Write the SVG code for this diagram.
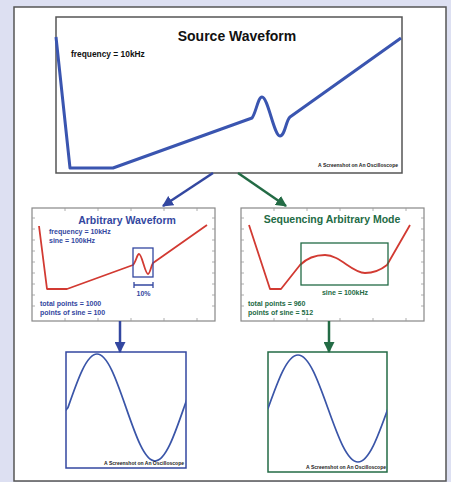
<svg xmlns="http://www.w3.org/2000/svg" width="451" height="482" viewBox="0 0 451 482">
<defs>
<style>
text{font-family:"Liberation Sans",Arial,sans-serif;font-weight:bold}
.frame{fill:#fff;stroke:#888;stroke-width:1.2}
.tick{stroke:#999;stroke-width:0.8}
.red{fill:none;stroke:#d23a32;stroke-width:1.8;stroke-linejoin:round}
.sine{fill:none;stroke:#3a55a8;stroke-width:1.7;stroke-linecap:round}
.shot{font-size:5px;fill:#222;text-anchor:end}
.b{fill:#3347a0}
.g{fill:#236b45}
</style>
<marker id="ab" viewBox="0 0 10 10" refX="9" refY="5" markerWidth="4.4" markerHeight="4.4" orient="auto" markerUnits="strokeWidth"><path d="M0,0 L10,5 L0,10 z" fill="#3347a0"/></marker>
<marker id="ag" viewBox="0 0 10 10" refX="9" refY="5" markerWidth="4.4" markerHeight="4.4" orient="auto" markerUnits="strokeWidth"><path d="M0,0 L10,5 L0,10 z" fill="#236b45"/></marker>
<clipPath id="c1"><rect x="66" y="352" width="120" height="116"/></clipPath>
<clipPath id="c2"><rect x="268" y="352" width="119" height="120"/></clipPath>
</defs>
<rect x="0" y="0" width="451" height="482" fill="#dde0f2"/>
<rect x="14" y="7" width="432" height="474" fill="#fff" stroke="#555" stroke-width="1.5"/>

<g id="source">
<rect x="56" y="17" width="346" height="156" fill="#fff" stroke="#555" stroke-width="1.5"/>
<text x="237" y="41" font-size="14" text-anchor="middle" fill="#111">Source Waveform</text>
<text x="71" y="57" font-size="8.4" fill="#111">frequency = 10kHz</text>
<path d="M56,37 L70,168 L113,168 L252,118 C256,113 258,97 262,97 C268,97 274,136 280,136 C285,136 286,120 290,117 L401,38" fill="none" stroke="#3a55b0" stroke-width="3" stroke-linejoin="round"/>
<text x="398" y="167" class="shot">A Screenshot on An Oscilloscope</text>
</g>

<g id="arbitrary">
<rect x="32" y="208" width="183" height="113" class="frame"/>
<path class="tick" d="M65,208v3M98,208v3M131,208v3M164,208v3M197,208v3M65,321v-3M98,321v-3M131,321v-3M164,321v-3M197,321v-3M32,218h3M32,229h3M32,240h3M32,251h3M32,262h3M32,273h3M32,284h3M32,295h3M32,306h3M215,218h-3M215,229h-3M215,240h-3M215,251h-3M215,262h-3M215,273h-3M215,284h-3M215,295h-3M215,306h-3"/>
<text x="127" y="224" font-size="10.5" text-anchor="middle" class="b">Arbitrary Waveform</text>
<text x="49" y="234" font-size="7" class="b">frequency = 10kHz</text>
<text x="49" y="243" font-size="7" class="b">sine = 100kHz</text>
<path class="red" d="M39,226 L47,289 L67,289 L133,265 C136,262 137,254 139,254 C142,254 145,274 148,274 C150,274 151,266 153,263 L207,225"/>
<rect x="133" y="248" width="20" height="29" fill="none" stroke="#3347a0" stroke-width="1.3"/>
<path d="M134,285 H153 M134,282 V288 M153,282 V288" stroke="#3347a0" stroke-width="1.3" fill="none"/>
<text x="143.5" y="296" font-size="7" text-anchor="middle" class="b">10%</text>
<text x="40" y="306" font-size="7" class="b">total points = 1000</text>
<text x="40" y="315" font-size="7" class="b">points of sine = 100</text>
</g>

<g id="sequencing">
<rect x="241" y="208" width="183" height="113" class="frame"/>
<path class="tick" d="M274,208v3M307,208v3M340,208v3M373,208v3M406,208v3M274,321v-3M307,321v-3M340,321v-3M373,321v-3M406,321v-3M241,218h3M241,229h3M241,240h3M241,251h3M241,262h3M241,273h3M241,284h3M241,295h3M241,306h3M424,218h-3M424,229h-3M424,240h-3M424,251h-3M424,262h-3M424,273h-3M424,284h-3M424,295h-3M424,306h-3"/>
<text x="332" y="223" font-size="10.5" text-anchor="middle" class="g">Sequencing Arbitrary Mode</text>
<path class="red" d="M249,225 L270,289 L281,289 L300,265 C307,258 316,255 325,255 C340,255 352,273 365,273 C375,273 382,269 387,265 L410,225"/>
<rect x="301" y="243" width="87" height="42" fill="none" stroke="#236b45" stroke-width="1.3"/>
<text x="345" y="295" font-size="7" text-anchor="middle" class="g">sine = 100kHz</text>
<text x="248" y="306" font-size="7" class="g">total points = 960</text>
<text x="248" y="315" font-size="7" class="g">points of sine = 512</text>
</g>

<g id="result-arbitrary">
<rect x="66" y="352" width="120" height="116" fill="#fff" stroke="#3347a0" stroke-width="1.5"/>
<path class="sine" clip-path="url(#c1)" d="M66,410 L68,407.5 C77.5,380.1 86.5,354 97,354 C107.5,354 116.5,380.1 126,407.5 C135.5,434.9 144.5,461 155,461 C165.5,461 174.5,434.9 184,407.5 L187,399"/>
<text x="184" y="465" class="shot">A Screenshot on An Oscilloscope</text>
</g>

<g id="result-sequencing">
<rect x="268" y="352" width="119" height="120" fill="#fff" stroke="#236b45" stroke-width="1.5"/>
<path class="sine" clip-path="url(#c2)" d="M268,408.5 C277.8,381.1 287.1,355 298,355 C308.9,355 318.2,381.1 328,408.5 C337.8,435.9 347.1,462 358,462 C368.9,462 378.2,435.9 388,408.5"/>
<text x="386" y="469" class="shot">A Screenshot on An Oscilloscope</text>
</g>

<g id="connectors">
<line x1="213" y1="173" x2="163" y2="206" stroke="#3347a0" stroke-width="2.5" marker-end="url(#ab)"/>
<line x1="238" y1="173" x2="286" y2="206" stroke="#236b45" stroke-width="2.5" marker-end="url(#ag)"/>
<line x1="120" y1="321" x2="120" y2="352" stroke="#3347a0" stroke-width="2.5" marker-end="url(#ab)"/>
<line x1="329" y1="321" x2="329" y2="352" stroke="#236b45" stroke-width="2.5" marker-end="url(#ag)"/>
</g>
</svg>
